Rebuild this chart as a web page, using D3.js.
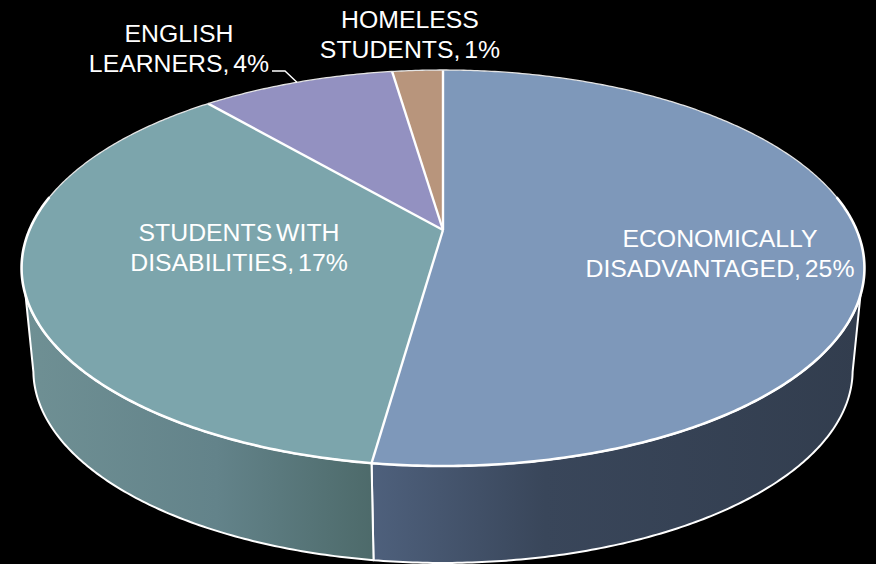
<!DOCTYPE html>
<html>
<head>
<meta charset="utf-8">
<script src="https://cdn.jsdelivr.net/npm/d3@7"></script>
<style>
  html, body { margin: 0; padding: 0; background: #000; }
  svg { display: block; }
  text { font-family: "Liberation Sans", Arial, sans-serif; fill: #fff; }
</style>
</head>
<body>
<svg id="chart" width="876" height="564"></svg>
<script>
// Student groups, clockwise from twelve o'clock
const categories = [
  ["ECONOMICALLY", "DISADVANTAGED"],
  ["STUDENTS WITH", "DISABILITIES"],
  ["ENGLISH", "LEARNERS"],
  ["HOMELESS", "STUDENTS"]
];
const shares = [24.55, 17.15, 4.2, 1.1];
const topColors = ["#7e98ba", "#7ca5ac", "#9391c1", "#b8957c"];
const wallStops = [
  [["0%", "#4e607c"], ["35%", "#39465a"], ["100%", "#323d4e"]],
  [["0%", "#6f9094"], ["55%", "#63838a"], ["100%", "#4d6a6a"]]
];
// Where each label block sits and how far its lines are apart
const labelAnchors = [[720, 247], [239, 241], [179, 42], [410, 28]];
const lineGap = 29.5;

const svg = d3.select("#chart");
const W = 876, H = 564;
svg.append("rect").attr("width", W).attr("height", H).attr("fill", "#000");

// Tilted disc: a circle seen in perspective, nearer edge drawn larger
const tilt = 0.192;
const upperDisc = { cx: 443, cy: 230, a: 413.6, b: 190.7 };
const lowerDisc = { cx: 443, cy: 333.5, a: 402, b: 185.4 };
function project(disc, angle) {
  const u = Math.sin(angle), v = -Math.cos(angle), w = 1 - tilt * v;
  return [disc.cx + disc.a * u / w, disc.cy + disc.b * v / w];
}
const arcPoints = (disc, a0, a1) => {
  const n = Math.max(2, Math.ceil(Math.abs(a1 - a0) / 0.01));
  return d3.range(n + 1).map(i => project(disc, a0 + (a1 - a0) * i / n));
};

const pie = d3.pie().sort(null).value(d => d);
const slices = pie(shares);
const line = d3.line();

// Outer silhouette of the wall on each side, in disc angle
const toRad = Math.PI / 180;
const wallLimits = {
  upper: [108.7 * toRad, 251.3 * toRad],
  lower: [101.5 * toRad, 258.5 * toRad]
};

const defs = svg.append("defs");
wallStops.forEach((stops, i) => {
  const g = defs.append("linearGradient")
    .attr("id", "wall" + i)
    .attr("gradientUnits", "userSpaceOnUse")
    .attr("y1", 0).attr("y2", 0);
  if (i === 0) g.attr("x1", 374).attr("x2", 862);
  else g.attr("x1", 24).attr("x2", 374);
  stops.forEach(s => g.append("stop").attr("offset", s[0]).attr("stop-color", s[1]));
});

// Side walls of the two slices that face the viewer
[0, 1].forEach(i => {
  const s = slices[i];
  const up0 = Math.max(s.startAngle, wallLimits.upper[0]);
  const up1 = Math.min(s.endAngle, wallLimits.upper[1]);
  const lo0 = Math.max(s.startAngle, wallLimits.lower[0]);
  const lo1 = Math.min(s.endAngle, wallLimits.lower[1]);
  const pts = arcPoints(upperDisc, up0, up1).concat(arcPoints(lowerDisc, lo1, lo0));
  svg.append("path")
    .attr("d", line(pts) + "Z")
    .attr("fill", `url(#wall${i})`)
    .attr("stroke", "#fff")
    .attr("stroke-width", 2)
    .attr("stroke-linejoin", "round");
});

// Top faces
slices.forEach((s, i) => {
  const pts = [[upperDisc.cx, upperDisc.cy]]
    .concat(arcPoints(upperDisc, s.startAngle, s.endAngle));
  svg.append("path")
    .attr("d", line(pts) + "Z")
    .attr("fill", topColors[i]);
});

// Spokes are heavy, the rim thins out towards the far side
slices.forEach(s => {
  svg.append("path")
    .attr("d", line([project(upperDisc, s.startAngle), [upperDisc.cx, upperDisc.cy]]))
    .attr("fill", "none")
    .attr("stroke", "#fff")
    .attr("stroke-width", 2.4);
});
svg.append("path")
  .attr("d", line(arcPoints(upperDisc, -80 * toRad, 80 * toRad)))
  .attr("fill", "none")
  .attr("stroke", "#e4e4e4")
  .attr("stroke-width", 1.3);
svg.append("path")
  .attr("d", line(arcPoints(upperDisc, 80 * toRad, 280 * toRad)))
  .attr("fill", "none")
  .attr("stroke", "#fff")
  .attr("stroke-width", 2.6)
  .attr("stroke-linecap", "round");

// Leader from the English learners label to its slice
const englishMid = (slices[2].startAngle + slices[2].endAngle) / 2;
const leaderEnd = project(upperDisc, englishMid);
svg.append("path")
  .attr("d", line([[272, 71], [285, 71], leaderEnd]))
  .attr("fill", "none")
  .attr("stroke", "#fff")
  .attr("stroke-width", 1.4);

// Labels show each share as a whole percent
const pct = d3.format(".0f");
categories.forEach((lines, i) => {
  const [x, y] = labelAnchors[i];
  const t = svg.append("text")
    .attr("x", x).attr("y", y)
    .attr("text-anchor", "middle")
    .attr("font-size", 24.8)
    .attr("word-spacing", -3);
  t.append("tspan").attr("x", x).text(lines[0]);
  t.append("tspan").attr("x", x).attr("dy", lineGap)
    .text(`${lines[1]}, ${pct(shares[i])}%`);
});
</script>
</body>
</html>
